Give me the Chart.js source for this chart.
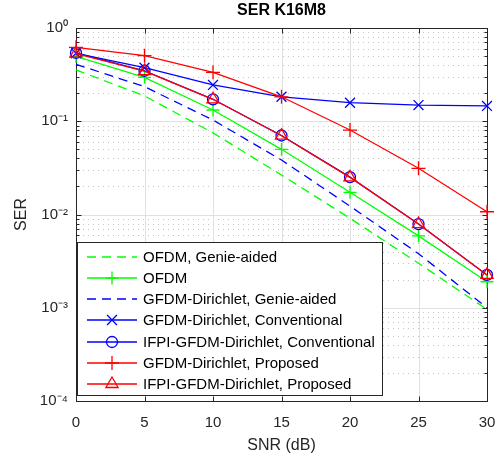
<!DOCTYPE html>
<html><head><meta charset="utf-8">
<script src="https://cdn.jsdelivr.net/npm/chart.js@4.4.1/dist/chart.umd.min.js"></script>
<style>html,body{margin:0;padding:0;background:#fff;}#wrap{width:496px;height:459px;position:relative;}</style>
</head><body><div id="wrap"><canvas id="c" width="496" height="459"></canvas></div>
<script>
// ---- data ----
const snr = [0, 5, 10, 15, 20, 25, 30];
const ofdmGenie   = [0.355, 0.187, 0.075, 0.0265, 0.0091, 0.0030, 0.00096];
const ofdm        = [0.495, 0.296, 0.132, 0.050, 0.0173, 0.0059, 0.0019];
const gfdmGenie   = [0.408, 0.235, 0.103, 0.0384, 0.0123, 0.0038, 0.00100];
const gfdmConv    = [0.535, 0.375, 0.245, 0.183, 0.158, 0.149, 0.146];
const ifpiConv    = [0.54, 0.348, 0.172, 0.0703, 0.0252, 0.0079, 0.00225];
const gfdmProp    = [0.621, 0.505, 0.335, 0.183, 0.0805, 0.0313, 0.0107];
const ifpiProp    = [0.53, 0.345, 0.172, 0.0700, 0.0250, 0.0079, 0.00225];
const seriesLabels = ['OFDM, Genie-aided', 'OFDM', 'GFDM-Dirichlet, Genie-aided',
  'GFDM-Dirichlet, Conventional', 'IFPI-GFDM-Dirichlet, Conventional',
  'GFDM-Dirichlet, Proposed', 'IFPI-GFDM-Dirichlet, Proposed'];
const xTicks = [0, 5, 10, 15, 20, 25, 30];
const yTicks = [1e-4, 1e-3, 1e-2, 1e-1, 1];
const yTickLabels = ['10⁻⁴', '10⁻³', '10⁻²', '10⁻¹', '10⁰'];
const chartTitle = 'SER K16M8';
const xTitle = 'SNR (dB)';
const yTitle = 'SER';

const GREEN = '#00ff00', BLUE = '#0000ff', RED = '#ff0000';
const styles = [
  {c: GREEN, dash: [9, 6], ps: false, r: 0},
  {c: GREEN, dash: [], ps: 'cross', r: 6.5},
  {c: BLUE, dash: [9, 6], ps: false, r: 0},
  {c: BLUE, dash: [], ps: 'crossRot', r: 7},
  {c: BLUE, dash: [], ps: 'circle', r: 5.5},
  {c: RED, dash: [], ps: 'cross', r: 7},
  {c: RED, dash: [], ps: 'triangle', r: 7}
];
const seriesData = [ofdmGenie, ofdm, gfdmGenie, gfdmConv, ifpiConv, gfdmProp, ifpiProp];

const datasets = seriesData.map((arr, i) => ({
  label: seriesLabels[i],
  data: arr.map((v, k) => ({x: snr[k], y: v})),
  borderColor: styles[i].c,
  backgroundColor: 'rgba(0,0,0,0)',
  borderWidth: 1.3,
  borderDash: styles[i].dash,
  pointStyle: styles[i].ps,
  pointRadius: styles[i].r,
  pointHoverRadius: styles[i].r,
  pointBorderColor: styles[i].c,
  pointBackgroundColor: 'rgba(0,0,0,0)',
  pointBorderWidth: 1.3,
  tension: 0,
  clip: false,
  order: seriesData.length - i
}));

const AX = '#262626';

const gridPlugin = {
  id: 'matlabGrid',
  beforeDatasetsDraw(chart) {
    const {ctx, chartArea: a, scales: {x, y}} = chart;
    ctx.save();
    ctx.lineWidth = 1;
    ctx.strokeStyle = '#c4c4c4';
    ctx.setLineDash([1, 4]);
    for (let d = -4; d < 0; d++) {
      for (let m = 2; m <= 9; m++) {
        const py = Math.round(y.getPixelForValue(m * Math.pow(10, d))) + 0.5;
        ctx.beginPath(); ctx.moveTo(a.left + 2, py); ctx.lineTo(a.right, py); ctx.stroke();
      }
    }
    ctx.setLineDash([]);
    ctx.strokeStyle = '#e0e0e0';
    yTicks.forEach(v => {
      const py = Math.round(y.getPixelForValue(v)) + 0.5;
      ctx.beginPath(); ctx.moveTo(a.left, py); ctx.lineTo(a.right, py); ctx.stroke();
    });
    xTicks.forEach(v => {
      const px = Math.round(x.getPixelForValue(v)) + 0.5;
      ctx.beginPath(); ctx.moveTo(px, a.top); ctx.lineTo(px, a.bottom); ctx.stroke();
    });
    ctx.strokeStyle = AX;
    const L = Math.round(a.left) + 0.5, R = Math.round(a.right) + 0.5, T = Math.round(a.top) + 0.5, B = Math.round(a.bottom) + 0.5;
    ctx.strokeRect(L, T, R - L, B - T);
    ctx.beginPath();
    xTicks.forEach(v => {
      const px = Math.round(x.getPixelForValue(v)) + 0.5;
      ctx.moveTo(px, B); ctx.lineTo(px, B - 5);
      ctx.moveTo(px, T); ctx.lineTo(px, T + 5);
    });
    for (let d = -4; d <= 0; d++) {
      for (let m = 1; m <= 9; m++) {
        const v = m * Math.pow(10, d);
        if (v > 1) break;
        const py = Math.round(y.getPixelForValue(v)) + 0.5;
        const len = m === 1 ? 5 : 3;
        ctx.moveTo(L, py); ctx.lineTo(L + len, py);
        ctx.moveTo(R, py); ctx.lineTo(R - len, py);
      }
    }
    ctx.stroke();
    ctx.restore();
  }
};

const legendPlugin = {
  id: 'matlabLegend',
  afterDraw(chart) {
    const {ctx} = chart;
    const bx = 77.5, by = 242.5, bw = 305, bh = 153;
    ctx.save();
    ctx.fillStyle = '#ffffff';
    ctx.fillRect(bx, by, bw, bh);
    ctx.strokeStyle = AX;
    ctx.lineWidth = 1;
    ctx.strokeRect(bx, by, bw, bh);
    ctx.font = '15px "Liberation Sans", Arial, sans-serif';
    ctx.textBaseline = 'middle';
    ctx.textAlign = 'left';
    chart.data.datasets.forEach((ds, i) => {
      const yy = Math.round(256.7 + i * 21.2);
      const col = styles[i].c;
      ctx.strokeStyle = col;
      ctx.lineWidth = 1.5;
      ctx.setLineDash(ds.borderDash || []);
      ctx.beginPath(); ctx.moveTo(87, yy); ctx.lineTo(137, yy); ctx.stroke();
      ctx.setLineDash([]);
      if (ds.pointStyle) {
        ctx.fillStyle = 'rgba(0,0,0,0)';
        ctx.strokeStyle = col;
        ctx.lineWidth = 1.3;
        Chart.helpers.drawPoint(ctx, {pointStyle: ds.pointStyle, radius: ds.pointRadius, rotation: 0, borderWidth: 1.3}, 112, yy);
      }
      ctx.fillStyle = '#000000';
      ctx.fillText(ds.label, 143, yy + 0.5);
    });
    ctx.restore();
  }
};

new Chart(document.getElementById('c'), {
  type: 'line',
  data: {datasets},
  options: {
    responsive: false,
    devicePixelRatio: 1,
    animation: false,
    events: [],
    layout: {padding: {top: 0, right: 9, bottom: 0, left: 0}},
    plugins: {
      legend: {display: false},
      tooltip: {enabled: false},
      title: {
        display: true, text: chartTitle, fullSize: false, color: '#000000',
        font: {family: '"Liberation Sans", Arial, sans-serif', size: 16, weight: 'bold'},
        padding: {top: 1, bottom: 7.8}
      }
    },
    scales: {
      x: {
        type: 'linear', min: 0, max: 30,
        afterBuildTicks: s => { s.ticks = xTicks.map(v => ({value: v})); },
        afterFit: s => { s.height = 58; s.paddingLeft = 0; s.paddingRight = 0; },
        ticks: {color: AX, padding: 13, maxRotation: 0, autoSkip: false,
          font: {family: '"Liberation Sans", Arial, sans-serif', size: 15}},
        grid: {display: false, drawTicks: false},
        border: {display: false},
        title: {display: true, text: xTitle, color: AX, padding: {top: 0, bottom: 3.4},
          font: {family: '"Liberation Sans", Arial, sans-serif', size: 16}}
      },
      y: {
        type: 'logarithmic', min: 1e-4, max: 1,
        afterBuildTicks: s => { s.ticks = yTicks.map(v => ({value: v})); },
        afterFit: s => { s.width = 76; },
        ticks: {color: AX, padding: 8, autoSkip: false,
          callback: (v) => { const k = yTicks.findIndex(t => Math.abs(Math.log10(t) - Math.log10(v)) < 1e-6); return k >= 0 ? yTickLabels[k] : ''; },
          font: {family: '"Liberation Sans", Arial, sans-serif', size: 15}},
        grid: {display: false, drawTicks: false},
        border: {display: false},
        title: {display: true, text: yTitle, color: AX, padding: {top: 12.4, bottom: 0},
          font: {family: '"Liberation Sans", Arial, sans-serif', size: 16}}
      }
    }
  },
  plugins: [gridPlugin, legendPlugin]
});
</script>
</body></html>
